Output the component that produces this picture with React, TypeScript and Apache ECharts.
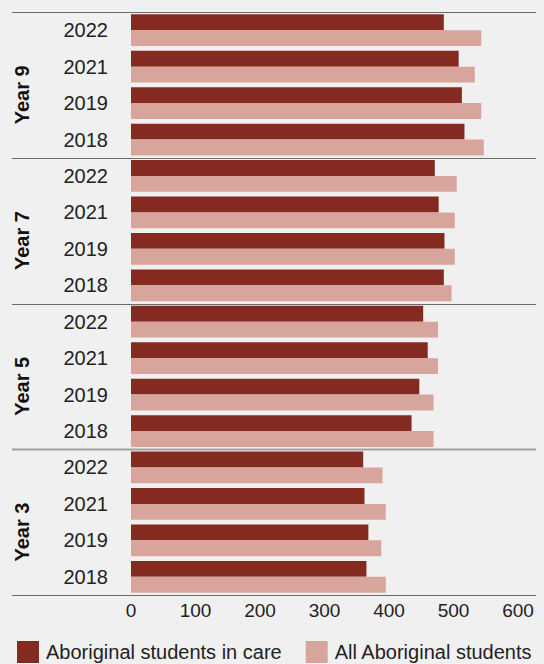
import React, { useEffect, useRef } from "react";
import * as echarts from "echarts";

const groups = ["Year 9", "Year 7", "Year 5", "Year 3"];
const years = ["2022", "2021", "2019", "2018"];
const careValues = [
  [485, 508, 513, 517],
  [471, 477, 486, 485],
  [453, 460, 447, 435],
  [360, 362, 368, 365],
];
const allValues = [
  [543, 533, 543, 547],
  [505, 502, 502, 497],
  [476, 476, 469, 469],
  [390, 395, 388, 395],
];
const xTicks = [0, 100, 200, 300, 400, 500, 600];
const seriesNames = ["Aboriginal students in care", "All Aboriginal students"];

const FONT = "'Liberation Sans', Arial, Helvetica, sans-serif";

export default function App() {
  const ref = useRef<HTMLDivElement>(null);
  useEffect(() => {
    if (!ref.current) return;
    const chart = echarts.init(ref.current, undefined, { renderer: "svg" });
    const cats: string[] = [];
    const care: number[] = [];
    const all: number[] = [];
    groups.forEach((g, gi) => {
      years.forEach((y, yi) => {
        cats.push(g + "|" + y);
        care.push(careValues[gi][yi]);
        all.push(allValues[gi][yi]);
      });
    });
    chart.setOption({
      animation: false,
      backgroundColor: "#f0f0f0",
      textStyle: { fontFamily: FONT },
      grid: { left: 131, right: 26, top: 12, bottom: 69 },
      legend: {
        left: 12,
        top: 636,
        itemWidth: 22,
        itemHeight: 22,
        itemGap: 24,
        icon: "rect",
        data: seriesNames,
        textStyle: { fontSize: 20, color: "#222", fontFamily: FONT, padding: [0, 0, 0, 2] },
      },
      xAxis: {
        type: "value",
        min: xTicks[0],
        max: xTicks[xTicks.length - 1],
        interval: 100,
        axisLine: { show: false },
        axisTick: { show: false },
        splitLine: { show: false },
        axisLabel: { fontSize: 19, color: "#222", margin: 6, fontFamily: FONT },
      },
      yAxis: {
        type: "category",
        inverse: true,
        data: cats,
        axisLine: { show: false },
        axisTick: { show: false },
        axisLabel: {
          fontSize: 20,
          color: "#222",
          margin: 23,
          fontFamily: FONT,
          formatter: (v: string) => v.split("|")[1],
        },
      },
      series: [
        {
          name: seriesNames[0],
          type: "bar",
          data: care,
          itemStyle: { color: "#852a20" },
          barGap: "0%",
          barCategoryGap: "13%",
        },
        {
          name: seriesNames[1],
          type: "bar",
          data: all,
          itemStyle: { color: "#d7a59b" },
          barGap: "0%",
          barCategoryGap: "13%",
        },
      ],
    });
    const c0 = chart.convertToPixel({ yAxisIndex: 0 }, cats[0]) as number;
    const c1 = chart.convertToPixel({ yAxisIndex: 0 }, cats[1]) as number;
    const band = c1 - c0;
    const per = years.length;
    const elements: any[] = [];
    for (let gi = 0; gi <= groups.length; gi++) {
      const y = Math.round(c0 - band / 2 + gi * per * band) + 0.5;
      const light = gi === 3;
      elements.push({
        type: "line",
        shape: { x1: 12, y1: y, x2: 536, y2: y },
        style: { stroke: light ? "#a0a0a0" : "#6a6a6a", lineWidth: light ? 2 : 1 },
        silent: true,
      });
    }
    groups.forEach((g, gi) => {
      const mid = c0 - band / 2 + (gi + 0.5) * per * band;
      elements.push({
        type: "text",
        x: 22,
        y: mid + 10,
        rotation: Math.PI / 2,
        style: {
          text: g,
          fontSize: 20,
          fontWeight: "bold",
          fill: "#111",
          fontFamily: FONT,
          align: "center",
          verticalAlign: "middle",
        },
        silent: true,
      });
    });
    chart.setOption({ graphic: { elements } });
    return () => chart.dispose();
  }, []);
  return (
    <div
      ref={ref}
      style={{ position: "fixed", left: 0, top: 0, width: 544, height: 664 }}
    />
  );
}
